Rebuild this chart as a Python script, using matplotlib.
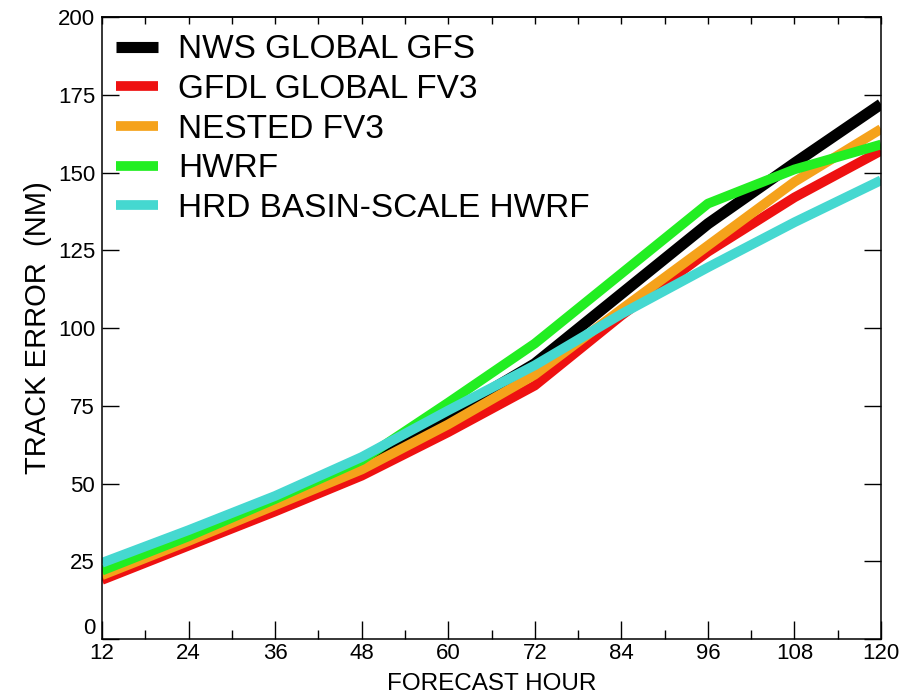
"""Track error vs forecast hour for five models (recreated chart)."""
import matplotlib
matplotlib.use("Agg")
import matplotlib.pyplot as plt
import matplotlib.transforms as mtransforms
from matplotlib.ticker import FuncFormatter, MultipleLocator

plt.rcParams["font.family"] = ["Liberation Sans", "DejaVu Sans"]

# ---------------------------------------------------------------------------
# Data
# ---------------------------------------------------------------------------
hours = [12, 24, 36, 48, 60, 72, 84, 96, 108, 120]

gfs = [21.0, 32.0, 43.5, 56.0, 72.0, 88.5, 111.0, 133.5, 153.0, 172.0]
gfdl_fv3 = [19.0, 30.0, 41.0, 52.5, 66.5, 81.5, 104.0, 124.5, 142.0, 157.0]
nested_fv3 = [20.5, 31.5, 43.0, 54.5, 69.0, 85.0, 106.0, 126.5, 147.0, 164.0]
hwrf = [22.0, 33.0, 45.0, 57.5, 76.0, 95.0, 117.5, 140.0, 151.0, 159.0]
basin_hwrf = [24.5, 35.0, 46.0, 58.5, 73.5, 88.0, 104.5, 119.5, 134.0, 147.5]

labels = ["NWS GLOBAL GFS", "GFDL GLOBAL FV3", "NESTED FV3", "HWRF",
          "HRD BASIN-SCALE HWRF"]
colours = ["#000000", "#ee1111", "#f5a21b", "#22ee22", "#45d8d0"]
series = [gfs, gfdl_fv3, nested_fv3, hwrf, basin_hwrf]

# ---------------------------------------------------------------------------
# Figure
# ---------------------------------------------------------------------------
fig = plt.figure(figsize=(9.04, 6.97), dpi=100)
ax = fig.add_axes([0.1128, 0.0832, 0.8618, 0.8924])

for vals, col, lab in zip(series, colours, labels):
    lw = 8 if col == "#000000" else 7
    ax.plot(hours, vals, color=col, lw=lw, label=lab,
            solid_capstyle="butt", solid_joinstyle="round")

ax.set_xlim(12, 120)
ax.set_ylim(0, 200)
ax.xaxis.set_major_locator(MultipleLocator(12))
ax.xaxis.set_minor_locator(MultipleLocator(6))
ax.yaxis.set_major_locator(MultipleLocator(25))
# "0" is drawn by hand below, raised so it clears the "12"
ax.yaxis.set_major_formatter(FuncFormatter(lambda v, _: "" if v == 0 else f"{v:g}"))

ax.tick_params(axis="x", which="major", direction="in", length=13, width=1,
               labelsize=16, pad=3)
ax.tick_params(axis="x", which="minor", direction="in", length=6.5, width=1)
ax.tick_params(axis="y", which="major", direction="in", length=12.5, width=1,
               right=True, labelsize=16, pad=5)

zero_tr = ax.get_yaxis_transform() + mtransforms.ScaledTranslation(
    -5 / 72, 0, fig.dpi_scale_trans)
ax.text(0, 0, "0", transform=zero_tr, ha="right", va="bottom", fontsize=16)

top = ax.secondary_xaxis("top")
top.set_xticks(range(12, 121, 6))
top.tick_params(direction="in", length=5, width=1, labeltop=False)

for s in list(ax.spines.values()) + list(top.spines.values()):
    s.set_linewidth(1.1)

ax.set_ylabel("TRACK ERROR  (NM)", fontsize=21, labelpad=4)
ax.set_xlabel("FORECAST HOUR", fontsize=17.5, labelpad=6)

ax.legend(loc="upper left", bbox_to_anchor=(0.018, 0.972), frameon=False,
          fontsize=24, handlelength=1.25, handletextpad=0.62,
          labelspacing=0.26, borderaxespad=0, borderpad=0)

fig.savefig("out.png", dpi=100)
